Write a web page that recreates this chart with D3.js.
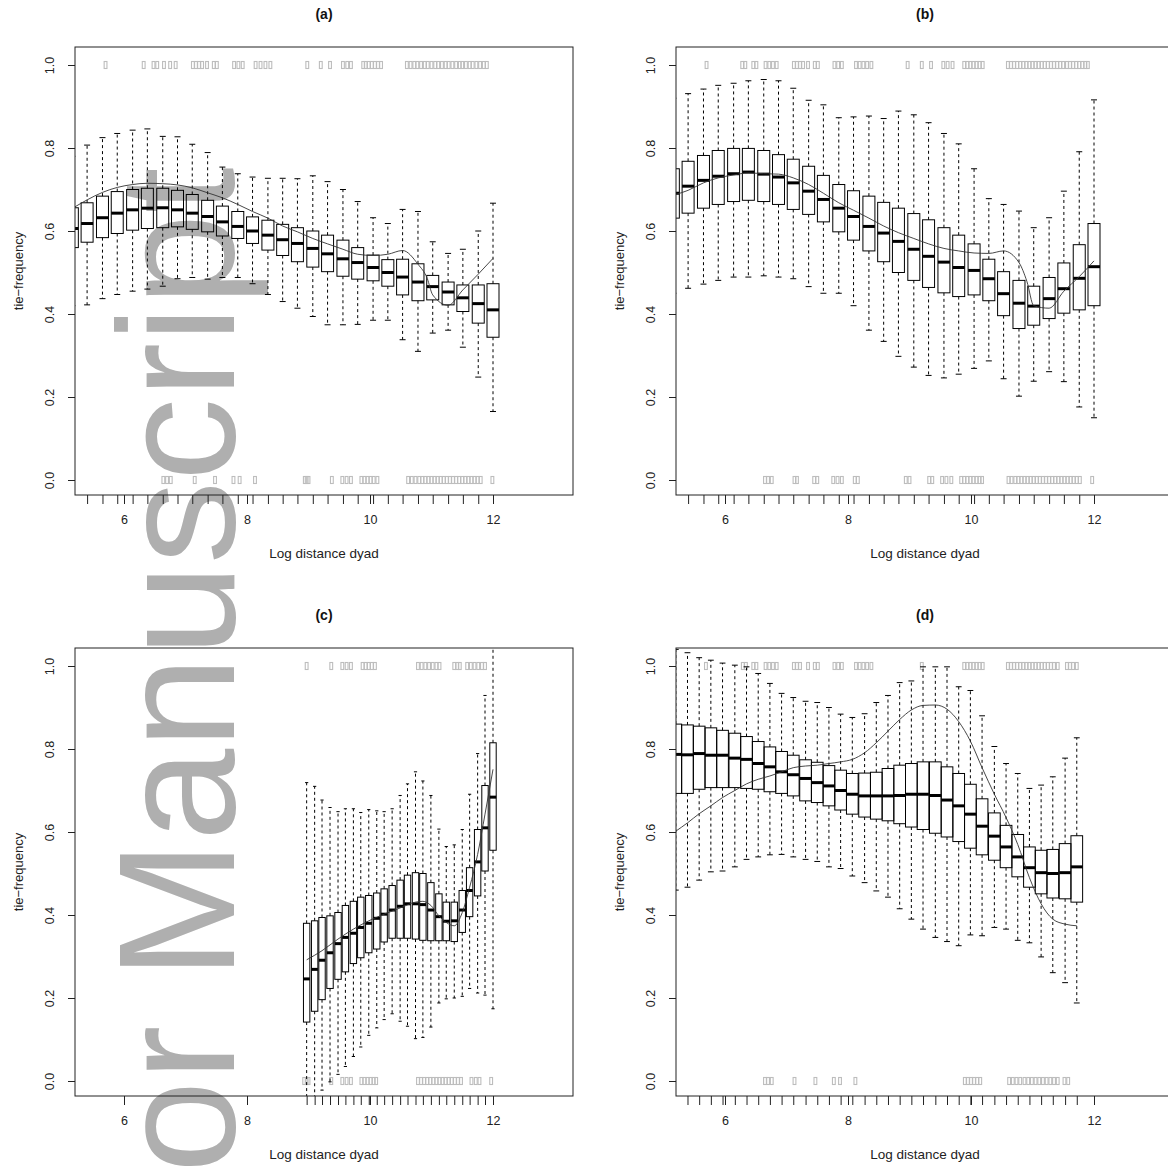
<!DOCTYPE html>
<html>
<head>
<meta charset="utf-8">
<script src="https://cdn.jsdelivr.net/npm/d3@7"></script>
<style>
  body { margin: 0; background: #fff; }
  text { font-family: "Liberation Sans", Arial, sans-serif; }
</style>
</head>
<body>
<svg id="chart" width="1168" height="1166"></svg>
<script>
// box positions (log distance) for panels (a) and (b)
const posAB = [5.16, 5.40, 5.65, 5.89, 6.14, 6.38, 6.63, 6.87, 7.11, 7.36, 7.60, 7.85, 8.09, 8.34, 8.58,
  8.82, 9.07, 9.31, 9.56, 9.80, 10.05, 10.29, 10.53, 10.78, 11.02, 11.27, 11.51, 11.76, 12.00];

// panel (a)
const aUpper = [0.78, 0.807, 0.825, 0.835, 0.843, 0.846, 0.828, 0.827, 0.809, 0.789, 0.754, 0.738, 0.730, 0.727, 0.727,
  0.726, 0.733, 0.719, 0.700, 0.671, 0.632, 0.618, 0.652, 0.647, 0.574, 0.546, 0.556, 0.600, 0.667];
const aQ3 = [0.656, 0.668, 0.684, 0.695, 0.700, 0.703, 0.703, 0.698, 0.688, 0.674, 0.660, 0.647, 0.634, 0.626, 0.616,
  0.608, 0.600, 0.590, 0.578, 0.560, 0.542, 0.531, 0.532, 0.521, 0.493, 0.477, 0.470, 0.470, 0.473];
const aMed = [0.606, 0.618, 0.632, 0.643, 0.651, 0.655, 0.656, 0.651, 0.643, 0.635, 0.622, 0.611, 0.600, 0.590, 0.579,
  0.570, 0.558, 0.545, 0.533, 0.524, 0.512, 0.500, 0.489, 0.477, 0.466, 0.453, 0.439, 0.425, 0.410];
const aQ1 = [0.560, 0.573, 0.584, 0.594, 0.602, 0.606, 0.608, 0.610, 0.604, 0.598, 0.588, 0.582, 0.570, 0.554, 0.541,
  0.526, 0.513, 0.502, 0.491, 0.484, 0.480, 0.467, 0.446, 0.432, 0.434, 0.422, 0.406, 0.378, 0.344];
const aLower = [0.42, 0.422, 0.437, 0.447, 0.455, 0.460, 0.467, 0.485, 0.488, 0.484, 0.488, 0.488, 0.473, 0.447, 0.430,
  0.414, 0.394, 0.374, 0.374, 0.375, 0.385, 0.385, 0.338, 0.310, 0.354, 0.361, 0.320, 0.248, 0.165];
const aLineX = [5.20, 5.40, 5.65, 5.89, 6.14, 6.38, 6.63, 6.87, 7.11, 7.36, 7.60, 7.85, 8.09, 8.34, 8.58,
  8.82, 9.07, 9.31, 9.56, 9.80, 10.05, 10.29, 10.53, 10.78, 10.93, 11.02, 11.27, 11.51, 11.76, 12.00];
const aLineY = [0.658, 0.675, 0.693, 0.705, 0.712, 0.715, 0.714, 0.711, 0.704, 0.692, 0.680, 0.664, 0.647, 0.631, 0.612,
  0.598, 0.582, 0.569, 0.556, 0.544, 0.541, 0.544, 0.553, 0.520, 0.486, 0.446, 0.421, 0.458, 0.496, 0.534];
const rugATop = [5.70, 6.32, 6.48, 6.54, 6.65, 6.75, 6.84, 7.12, 7.17, 7.22, 7.27, 7.35, 7.46, 7.51, 7.79, 7.86, 7.93,
  8.14, 8.22, 8.30, 8.38, 8.98, 9.20, 9.35, 9.56, 9.63, 9.69, 9.89, 9.93, 9.98, 10.03, 10.08, 10.13, 10.18,
  10.60, 10.66, 10.72, 10.77, 10.83, 10.89, 10.94, 11.00, 11.06, 11.11, 11.17, 11.23, 11.28, 11.34, 11.40, 11.46, 11.50,
  11.56, 11.62, 11.67, 11.73, 11.79, 11.85, 11.90];
const rugABottom = [6.64, 6.70, 6.76, 7.15, 7.48, 7.78, 7.88, 8.13, 8.94, 8.97, 9.00, 9.38, 9.55, 9.62, 9.69,
  9.86, 9.91, 9.96, 10.01, 10.06, 10.12, 10.62, 10.68, 10.74, 10.80, 10.85, 10.90, 10.95, 11.00, 11.05, 11.10, 11.15,
  11.20, 11.25, 11.30, 11.35, 11.40, 11.45, 11.50, 11.55, 11.60, 11.65, 11.70, 11.75, 11.80, 11.99];

// panel (b)
const bUpper = [0.92, 0.931, 0.942, 0.951, 0.956, 0.962, 0.965, 0.962, 0.944, 0.915, 0.904, 0.873, 0.875, 0.877, 0.871,
  0.889, 0.880, 0.861, 0.835, 0.810, 0.750, 0.678, 0.664, 0.648, 0.608, 0.632, 0.696, 0.791, 0.916];
const bQ3 = [0.750, 0.768, 0.782, 0.794, 0.799, 0.799, 0.794, 0.784, 0.773, 0.756, 0.734, 0.712, 0.697, 0.684, 0.669,
  0.655, 0.642, 0.627, 0.608, 0.590, 0.569, 0.532, 0.502, 0.481, 0.467, 0.488, 0.523, 0.567, 0.618];
const bMed = [0.691, 0.708, 0.722, 0.732, 0.738, 0.742, 0.737, 0.730, 0.716, 0.696, 0.676, 0.655, 0.635, 0.611, 0.595,
  0.575, 0.556, 0.539, 0.525, 0.512, 0.505, 0.485, 0.449, 0.426, 0.419, 0.437, 0.461, 0.486, 0.514];
const bQ1 = [0.631, 0.643, 0.655, 0.664, 0.671, 0.674, 0.671, 0.664, 0.652, 0.640, 0.622, 0.598, 0.578, 0.552, 0.526,
  0.500, 0.481, 0.464, 0.451, 0.442, 0.446, 0.432, 0.396, 0.365, 0.373, 0.389, 0.402, 0.410, 0.420];
const bLower = [0.45, 0.462, 0.472, 0.481, 0.489, 0.489, 0.492, 0.489, 0.485, 0.466, 0.450, 0.450, 0.420, 0.361, 0.334,
  0.298, 0.272, 0.252, 0.246, 0.255, 0.269, 0.287, 0.244, 0.202, 0.238, 0.261, 0.237, 0.176, 0.150];
const bLineX = [5.20, 5.40, 5.65, 5.89, 6.14, 6.38, 6.63, 6.87, 7.11, 7.36, 7.60, 7.85, 8.09, 8.34, 8.58,
  8.82, 9.07, 9.31, 9.56, 9.80, 10.05, 10.29, 10.53, 10.78, 10.91, 11.02, 11.27, 11.51, 11.76, 12.00];
const bLineY = [0.688, 0.698, 0.716, 0.728, 0.735, 0.740, 0.738, 0.737, 0.728, 0.712, 0.691, 0.668, 0.650, 0.631, 0.612,
  0.596, 0.582, 0.569, 0.558, 0.552, 0.547, 0.546, 0.552, 0.524, 0.478, 0.420, 0.414, 0.455, 0.490, 0.528];
const rugBTop = [5.70, 6.28, 6.33, 6.46, 6.51, 6.66, 6.72, 6.78, 6.84, 7.12, 7.17, 7.22, 7.27, 7.35, 7.46, 7.51,
  7.78, 7.84, 7.90, 8.13, 8.19, 8.25, 8.31, 8.38, 8.97, 9.20, 9.35, 9.55, 9.62, 9.70, 9.89, 9.94, 9.99, 10.04, 10.09,
  10.14, 10.19, 10.60, 10.65, 10.70, 10.75, 10.80, 10.85, 10.90, 10.95, 11.00, 11.05, 11.10, 11.15, 11.20, 11.25,
  11.30, 11.35, 11.40, 11.45, 11.50, 11.56, 11.61, 11.66, 11.71, 11.76, 11.81, 11.86, 11.90];
const rugBBottom = [6.65, 6.70, 6.76, 7.13, 7.17, 7.45, 7.50, 7.76, 7.83, 7.90, 8.11, 8.16, 8.94, 9.00, 9.32, 9.37,
  9.53, 9.60, 9.68, 9.84, 9.89, 9.94, 9.99, 10.04, 10.09, 10.14, 10.18, 10.61, 10.66, 10.72, 10.77, 10.82, 10.87,
  10.92, 10.97, 11.02, 11.07, 11.12, 11.17, 11.22, 11.27, 11.32, 11.37, 11.42, 11.47, 11.52, 11.57, 11.62, 11.67,
  11.72, 11.77, 11.97];

// panel (c)
const posC = [8.97, 9.10, 9.22, 9.35, 9.48, 9.60, 9.73, 9.85, 9.98, 10.11, 10.23, 10.36, 10.49, 10.61, 10.74,
  10.86, 10.99, 11.12, 11.24, 11.37, 11.50, 11.62, 11.75, 11.87, 12.00];
const cUpper = [0.719, 0.710, 0.677, 0.659, 0.649, 0.656, 0.656, 0.647, 0.654, 0.651, 0.649, 0.656, 0.688, 0.716, 0.745,
  0.723, 0.688, 0.607, 0.565, 0.569, 0.606, 0.691, 0.789, 0.929, 1.06];
const cQ3 = [0.380, 0.386, 0.394, 0.398, 0.406, 0.423, 0.433, 0.443, 0.447, 0.453, 0.463, 0.471, 0.484, 0.496, 0.502,
  0.500, 0.478, 0.451, 0.431, 0.431, 0.459, 0.514, 0.606, 0.712, 0.815];
const cMed = [0.246, 0.269, 0.291, 0.309, 0.331, 0.346, 0.356, 0.370, 0.380, 0.392, 0.402, 0.412, 0.421, 0.427, 0.427,
  0.425, 0.412, 0.396, 0.385, 0.386, 0.412, 0.459, 0.528, 0.610, 0.684];
const cQ1 = [0.142, 0.168, 0.196, 0.223, 0.245, 0.263, 0.283, 0.297, 0.309, 0.318, 0.335, 0.344, 0.344, 0.344, 0.342,
  0.339, 0.338, 0.338, 0.338, 0.336, 0.358, 0.396, 0.446, 0.506, 0.556];
const cLower = [-0.06, -0.05, -0.022, -0.002, 0.016, 0.035, 0.059, 0.082, 0.110, 0.128, 0.148, 0.162, 0.144, 0.132, 0.102,
  0.105, 0.130, 0.188, 0.198, 0.200, 0.204, 0.223, 0.212, 0.207, 0.174];
const cLineX = [8.97, 9.22, 9.48, 9.73, 9.98, 10.23, 10.49, 10.74, 10.86, 10.99, 11.12, 11.24, 11.37, 11.50, 11.62,
  11.75, 11.87, 12.00];
const cLineY = [0.292, 0.314, 0.342, 0.366, 0.386, 0.402, 0.417, 0.431, 0.433, 0.423, 0.398, 0.382, 0.374, 0.406, 0.467,
  0.546, 0.643, 0.751];
const rugCTop = [8.97, 9.37, 9.55, 9.62, 9.69, 9.88, 9.93, 9.98, 10.03, 10.08, 10.78, 10.84, 10.90, 10.96, 11.02, 11.08,
  11.13, 11.37, 11.42, 11.46, 11.58, 11.64, 11.70, 11.76, 11.82, 11.87];
const rugCBottom = [8.93, 8.97, 9.00, 9.37, 9.55, 9.62, 9.69, 9.86, 9.91, 9.96, 10.01, 10.06, 10.10, 10.78, 10.83, 10.88,
  10.93, 10.98, 11.03, 11.08, 11.13, 11.18, 11.23, 11.28, 11.33, 11.38, 11.43, 11.48, 11.65, 11.72, 11.78, 11.97];

// panel (d)
const posD = [5.20, 5.39, 5.58, 5.77, 5.96, 6.16, 6.35, 6.54, 6.73, 6.92, 7.11, 7.31, 7.50, 7.69, 7.88, 8.07, 8.27,
  8.46, 8.65, 8.84, 9.03, 9.22, 9.42, 9.61, 9.80, 9.99, 10.18, 10.38, 10.57, 10.76, 10.95, 11.14, 11.33, 11.53, 11.72];
const dUpper = [1.04, 1.032, 1.020, 1.014, 1.007, 1.002, 0.998, 0.982, 0.958, 0.934, 0.924, 0.915, 0.912, 0.900, 0.884,
  0.876, 0.885, 0.912, 0.929, 0.960, 0.964, 0.998, 0.998, 0.998, 0.950, 0.941, 0.880, 0.806, 0.765, 0.741, 0.705,
  0.713, 0.733, 0.778, 0.827];
const dQ3 = [0.860, 0.858, 0.855, 0.851, 0.845, 0.838, 0.830, 0.818, 0.805, 0.794, 0.785, 0.774, 0.768, 0.760, 0.749,
  0.741, 0.742, 0.744, 0.753, 0.761, 0.765, 0.769, 0.769, 0.757, 0.741, 0.715, 0.680, 0.646, 0.616, 0.594, 0.564,
  0.556, 0.558, 0.572, 0.591];
const dMed = [0.787, 0.786, 0.789, 0.785, 0.785, 0.778, 0.775, 0.765, 0.757, 0.745, 0.738, 0.729, 0.719, 0.711, 0.700,
  0.691, 0.687, 0.687, 0.687, 0.688, 0.691, 0.691, 0.688, 0.677, 0.663, 0.643, 0.614, 0.590, 0.564, 0.540, 0.514,
  0.502, 0.500, 0.502, 0.516];
const dQ1 = [0.693, 0.693, 0.703, 0.707, 0.707, 0.707, 0.705, 0.703, 0.697, 0.693, 0.687, 0.675, 0.671, 0.663, 0.653,
  0.643, 0.636, 0.631, 0.627, 0.620, 0.612, 0.606, 0.597, 0.588, 0.577, 0.561, 0.545, 0.532, 0.514, 0.492, 0.467,
  0.451, 0.441, 0.439, 0.431];
const dLower = [0.46, 0.467, 0.484, 0.504, 0.506, 0.516, 0.534, 0.540, 0.545, 0.546, 0.540, 0.534, 0.529, 0.516, 0.512,
  0.494, 0.478, 0.458, 0.443, 0.415, 0.390, 0.366, 0.346, 0.336, 0.326, 0.352, 0.350, 0.370, 0.366, 0.339, 0.333,
  0.299, 0.261, 0.237, 0.188];
const dLineX = [5.20, 5.39, 5.58, 5.77, 5.96, 6.16, 6.35, 6.54, 6.73, 6.92, 7.11, 7.31, 7.50, 7.69, 7.88, 8.07, 8.27,
  8.46, 8.65, 8.84, 9.03, 9.22, 9.42, 9.61, 9.80, 9.99, 10.18, 10.38, 10.57, 10.76, 10.95, 11.14, 11.33, 11.53, 11.72];
const dLineY = [0.602, 0.622, 0.644, 0.663, 0.683, 0.700, 0.716, 0.727, 0.735, 0.745, 0.755, 0.759, 0.761, 0.765, 0.769,
  0.775, 0.791, 0.815, 0.843, 0.871, 0.894, 0.905, 0.906, 0.896, 0.866, 0.819, 0.755, 0.691, 0.635, 0.570, 0.490,
  0.427, 0.390, 0.378, 0.374];
const rugDTop = [5.69, 6.29, 6.34, 6.46, 6.51, 6.66, 6.72, 6.78, 6.84, 7.12, 7.17, 7.22, 7.35, 7.46, 7.51, 7.78, 7.84,
  7.90, 8.13, 8.19, 8.25, 8.31, 8.38, 9.20, 9.89, 9.94, 9.99, 10.04, 10.09, 10.14, 10.19, 10.60, 10.65, 10.70, 10.75,
  10.80, 10.85, 10.90, 10.95, 11.00, 11.05, 11.10, 11.15, 11.20, 11.25, 11.30, 11.35, 11.41, 11.56, 11.61, 11.66, 11.72];
const rugDBottom = [6.65, 6.70, 6.76, 7.13, 7.47, 7.77, 7.87, 8.12, 9.90, 9.95, 10.00, 10.05, 10.10, 10.15, 10.62,
  10.68, 10.74, 10.80, 10.87, 10.93, 10.99, 11.05, 11.11, 11.17, 11.23, 11.29, 11.35, 11.41, 11.52, 11.58];

const yTicks = [0, 0.2, 0.4, 0.6, 0.8, 1.0];
const xTicks = [6, 8, 10, 12];

const panels = [
  { title: "(a)", dx: 0, dy: 0, pos: posAB, up: aUpper, q3: aQ3, med: aMed, q1: aQ1, lo: aLower,
    lx: aLineX, ly: aLineY, rugTop: rugATop, rugBot: rugABottom, boxW: 0.195 },
  { title: "(b)", dx: 601, dy: 0, pos: posAB, up: bUpper, q3: bQ3, med: bMed, q1: bQ1, lo: bLower,
    lx: bLineX, ly: bLineY, rugTop: rugBTop, rugBot: rugBBottom, boxW: 0.195 },
  { title: "(c)", dx: 0, dy: 601, pos: posC, up: cUpper, q3: cQ3, med: cMed, q1: cQ1, lo: cLower,
    lx: cLineX, ly: cLineY, rugTop: rugCTop, rugBot: rugCBottom, boxW: 0.104 },
  { title: "(d)", dx: 601, dy: 601, pos: posD, up: dUpper, q3: dQ3, med: dMed, q1: dQ1, lo: dLower,
    lx: dLineX, ly: dLineY, rugTop: rugDTop, rugBot: rugDBottom, boxW: 0.19 }
];

// plot region inside each panel
const L = 75, T = 47, R = 573, B = 495;
const x = d3.scaleLinear().domain([6, 12]).range([124, 493]);
const y = d3.scaleLinear().domain([0, 1]).range([480, 65]);
const xMin = x.invert(L), xMax = x.invert(R);

const svg = d3.select("#chart");
svg.append("rect").attr("width", 1168).attr("height", 1166).attr("fill", "#fff");

// watermark behind everything (runs off the bottom edge, as in the source)
svg.append("text")
  .attr("transform", "translate(234,1173) rotate(-90)")
  .attr("font-size", 166)
  .attr("fill", "#afafaf")
  .text("or Manuscript");

panels.forEach((p, i) => {
  const g = svg.append("g").attr("transform", `translate(${p.dx},${p.dy})`);

  g.append("clipPath").attr("id", "clip" + i)
    .append("rect").attr("x", L).attr("y", T).attr("width", R - L).attr("height", B - T);
  const inner = g.append("g").attr("clip-path", `url(#clip${i})`);

  // grey rug marks at 1 and 0
  [[p.rugTop, 1], [p.rugBot, 0]].forEach(([vals, lev]) => {
    inner.append("g").selectAll("rect").data(vals).join("rect")
      .attr("x", d => x(d) - 1.4).attr("y", y(lev) - 3.5)
      .attr("width", 2.8).attr("height", 7)
      .attr("fill", "none").attr("stroke", "#bdbdbd").attr("stroke-width", 1.1);
  });

  const boxes = p.pos.map((v, j) => ({ x: v, up: p.up[j], q3: p.q3[j], med: p.med[j], q1: p.q1[j], lo: p.lo[j] }));
  const hw = (x(6 + p.boxW) - x(6)) / 2;

  const bg = inner.append("g").selectAll("g").data(boxes).join("g").attr("stroke", "#000");
  // whiskers
  bg.append("line").attr("x1", d => x(d.x)).attr("x2", d => x(d.x))
    .attr("y1", d => y(d.q3)).attr("y2", d => y(d.up)).attr("stroke-dasharray", "3,3");
  bg.append("line").attr("x1", d => x(d.x)).attr("x2", d => x(d.x))
    .attr("y1", d => y(d.q1)).attr("y2", d => y(d.lo)).attr("stroke-dasharray", "3,3");
  // staples
  bg.append("line").attr("x1", d => x(d.x) - hw / 2).attr("x2", d => x(d.x) + hw / 2)
    .attr("y1", d => y(d.up)).attr("y2", d => y(d.up));
  bg.append("line").attr("x1", d => x(d.x) - hw / 2).attr("x2", d => x(d.x) + hw / 2)
    .attr("y1", d => y(d.lo)).attr("y2", d => y(d.lo));
  // box
  bg.append("rect").attr("x", d => x(d.x) - hw).attr("width", hw * 2)
    .attr("y", d => y(d.q3)).attr("height", d => y(d.q1) - y(d.q3))
    .attr("fill", "none").attr("stroke-width", 1);
  // median
  bg.append("line").attr("x1", d => x(d.x) - hw).attr("x2", d => x(d.x) + hw)
    .attr("y1", d => y(d.med)).attr("y2", d => y(d.med)).attr("stroke-width", 3);

  // smooth line
  const pts = p.lx.map((v, j) => [v, p.ly[j]]);
  inner.append("path").datum(pts)
    .attr("d", d3.line().x(d => x(d[0])).y(d => y(d[1])).curve(d3.curveMonotoneX))
    .attr("fill", "none").attr("stroke", "#333").attr("stroke-width", 0.9);

  // frame
  g.append("rect").attr("x", L).attr("y", T).attr("width", R - L).attr("height", B - T)
    .attr("fill", "none").attr("stroke", "#222").attr("stroke-width", 1);

  // y axis
  const ya = g.append("g").attr("transform", `translate(${L},0)`)
    .call(d3.axisLeft(y).tickValues(yTicks).tickFormat(d3.format(".1f")).tickSize(7));
  ya.attr("font-size", null).attr("font-family", null).attr("color", "#222");
  ya.select(".domain").remove();
  ya.selectAll("text").attr("x", null).attr("dy", null)
    .attr("text-anchor", "middle").attr("transform", "translate(-21,0) rotate(-90)")
    .attr("font-size", 12.5).attr("fill", "#222");

  // x axis: ticks at every box plus labelled ticks
  const inside = p.pos.filter(v => v >= xMin && v <= xMax);
  const xb = g.append("g").attr("transform", `translate(0,${B})`)
    .call(d3.axisBottom(x).tickValues(inside).tickFormat("").tickSize(9));
  xb.attr("color", "#222");
  xb.select(".domain").remove();
  const xa = g.append("g").attr("transform", `translate(0,${B})`)
    .call(d3.axisBottom(x).tickValues(xTicks).tickFormat(d3.format("d")).tickSize(9).tickPadding(11));
  xa.attr("font-size", null).attr("font-family", null).attr("color", "#222");
  xa.select(".domain").remove();
  xa.selectAll("text").attr("font-size", 12.5).attr("fill", "#222");

  // labels
  g.append("text").attr("x", (L + R) / 2).attr("y", 19).attr("text-anchor", "middle")
    .attr("font-size", 14).attr("font-weight", "bold").attr("fill", "#111").text(p.title);
  g.append("text").attr("x", (L + R) / 2).attr("y", 558).attr("text-anchor", "middle")
    .attr("font-size", 13.5).attr("fill", "#222").text("Log distance dyad");
  g.append("text").attr("transform", `translate(23,${(T + B) / 2}) rotate(-90)`).attr("text-anchor", "middle")
    .attr("font-size", 13).attr("fill", "#222").text("tie−frequency");
});
</script>
</body>
</html>
